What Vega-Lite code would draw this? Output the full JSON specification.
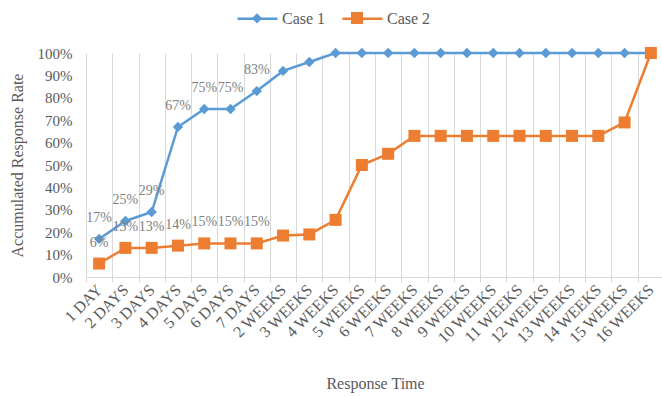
{
  "$schema": "https://vega.github.io/schema/vega-lite/v6.json",
  "autosize": "none",
  "width": 578,
  "height": 224,
  "padding": {"left": 86, "top": 53, "right": 0, "bottom": 120},
  "background": "white",
  "config": {
    "view": {"stroke": null},
    "font": "Liberation Serif"
  },
  "data": {
    "values": [
      {"time": "1 DAY", "case": "Case 1", "rate": 0.17},
      {"time": "2 DAYS", "case": "Case 1", "rate": 0.25},
      {"time": "3 DAYS", "case": "Case 1", "rate": 0.29},
      {"time": "4 DAYS", "case": "Case 1", "rate": 0.67},
      {"time": "5 DAYS", "case": "Case 1", "rate": 0.75},
      {"time": "6 DAYS", "case": "Case 1", "rate": 0.75},
      {"time": "7 DAYS", "case": "Case 1", "rate": 0.83},
      {"time": "2 WEEKS", "case": "Case 1", "rate": 0.92},
      {"time": "3 WEEKS", "case": "Case 1", "rate": 0.96},
      {"time": "4 WEEKS", "case": "Case 1", "rate": 1.0},
      {"time": "5 WEEKS", "case": "Case 1", "rate": 1.0},
      {"time": "6 WEEKS", "case": "Case 1", "rate": 1.0},
      {"time": "7 WEEKS", "case": "Case 1", "rate": 1.0},
      {"time": "8 WEEKS", "case": "Case 1", "rate": 1.0},
      {"time": "9 WEEKS", "case": "Case 1", "rate": 1.0},
      {"time": "10 WEEKS", "case": "Case 1", "rate": 1.0},
      {"time": "11 WEEKS", "case": "Case 1", "rate": 1.0},
      {"time": "12 WEEKS", "case": "Case 1", "rate": 1.0},
      {"time": "13 WEEKS", "case": "Case 1", "rate": 1.0},
      {"time": "14 WEEKS", "case": "Case 1", "rate": 1.0},
      {"time": "15 WEEKS", "case": "Case 1", "rate": 1.0},
      {"time": "16 WEEKS", "case": "Case 1", "rate": 1.0},
      {"time": "1 DAY", "case": "Case 2", "rate": 0.06},
      {"time": "2 DAYS", "case": "Case 2", "rate": 0.13},
      {"time": "3 DAYS", "case": "Case 2", "rate": 0.13},
      {"time": "4 DAYS", "case": "Case 2", "rate": 0.14},
      {"time": "5 DAYS", "case": "Case 2", "rate": 0.15},
      {"time": "6 DAYS", "case": "Case 2", "rate": 0.15},
      {"time": "7 DAYS", "case": "Case 2", "rate": 0.15},
      {"time": "2 WEEKS", "case": "Case 2", "rate": 0.185},
      {"time": "3 WEEKS", "case": "Case 2", "rate": 0.19},
      {"time": "4 WEEKS", "case": "Case 2", "rate": 0.255},
      {"time": "5 WEEKS", "case": "Case 2", "rate": 0.5},
      {"time": "6 WEEKS", "case": "Case 2", "rate": 0.55},
      {"time": "7 WEEKS", "case": "Case 2", "rate": 0.63},
      {"time": "8 WEEKS", "case": "Case 2", "rate": 0.63},
      {"time": "9 WEEKS", "case": "Case 2", "rate": 0.63},
      {"time": "10 WEEKS", "case": "Case 2", "rate": 0.63},
      {"time": "11 WEEKS", "case": "Case 2", "rate": 0.63},
      {"time": "12 WEEKS", "case": "Case 2", "rate": 0.63},
      {"time": "13 WEEKS", "case": "Case 2", "rate": 0.63},
      {"time": "14 WEEKS", "case": "Case 2", "rate": 0.63},
      {"time": "15 WEEKS", "case": "Case 2", "rate": 0.69},
      {"time": "16 WEEKS", "case": "Case 2", "rate": 1.0}
    ]
  },
  "encoding": {
    "x": {
      "field": "time",
      "type": "nominal",
      "sort": ["1 DAY", "2 DAYS", "3 DAYS", "4 DAYS", "5 DAYS", "6 DAYS", "7 DAYS", "2 WEEKS", "3 WEEKS", "4 WEEKS", "5 WEEKS", "6 WEEKS", "7 WEEKS", "8 WEEKS", "9 WEEKS", "10 WEEKS", "11 WEEKS", "12 WEEKS", "13 WEEKS", "14 WEEKS", "15 WEEKS", "16 WEEKS"],
      "scale": {"type": "band", "paddingInner": 0, "paddingOuter": 0},
      "axis": {
        "title": "Response Time",
        "titleFont": "Liberation Serif",
        "titleFontSize": 16,
        "titleFontWeight": "normal",
        "titleColor": "#595959",
        "titlePadding": 30,
        "labelFont": "Liberation Serif",
        "labelFontSize": 16,
        "labelColor": "#595959",
        "labelAngle": -45,
        "labelAlign": "right",
        "labelBaseline": "middle",
        "labelPadding": 5,
        "tickBand": "extent",
        "grid": true,
        "gridColor": "#d9d9d9",
        "gridWidth": 1,
        "domainColor": "#d9d9d9",
        "tickColor": "#d9d9d9",
        "tickSize": 5
      }
    },
    "y": {
      "field": "rate",
      "type": "quantitative",
      "scale": {"domain": [0, 1]},
      "axis": {
        "title": "Accumulated  Response Rate",
        "titleFont": "Liberation Serif",
        "titleFontSize": 16,
        "titleFontWeight": "normal",
        "titleColor": "#595959",
        "titlePadding": 12,
        "format": ".0%",
        "values": [0, 0.1, 0.2, 0.3, 0.4, 0.5, 0.6, 0.7, 0.8, 0.9, 1.0],
        "labelFont": "Liberation Serif",
        "labelFontSize": 15,
        "labelColor": "#595959",
        "labelPadding": 14,
        "grid": false,
        "domain": false,
        "ticks": false
      }
    }
  },
  "layer": [
    {
      "mark": {"type": "line", "strokeWidth": 2.5},
      "encoding": {
        "color": {
          "field": "case",
          "type": "nominal",
          "scale": {"domain": ["Case 1", "Case 2"], "range": ["#5B9BD5", "#ED7D31"]},
          "legend": {
            "title": null,
            "orient": "none",
            "direction": "horizontal",
            "legendX": 150,
            "legendY": -56,
            "symbolType": "stroke",
            "symbolSize": 1600,
            "symbolStrokeWidth": 2.5,
            "labelFont": "Liberation Serif",
            "labelFontSize": 16,
            "labelColor": "#595959",
            "labelOffset": 3,
            "columnPadding": 11
          }
        }
      }
    },
    {
      "mark": {"type": "point", "filled": true, "opacity": 1, "size": 1600},
      "encoding": {
        "fill": {
          "field": "case",
          "type": "nominal",
          "scale": {"range": ["#5B9BD5", "#ED7D31"]},
          "legend": {
            "title": null,
            "orient": "none",
            "direction": "horizontal",
            "legendX": 150,
            "legendY": -56,
            "symbolSize": 1600,
            "labelFont": "Liberation Serif",
            "labelFontSize": 16,
            "labelColor": "#595959",
            "labelOpacity": 0,
            "labelOffset": 3,
            "columnPadding": 11
          }
        },
        "shape": {
          "field": "case",
          "type": "nominal",
          "scale": {"range": ["M0,-0.26L0.26,0L0,0.26L-0.26,0Z", "M-0.3,-0.3H0.3V0.3H-0.3Z"]},
          "legend": {
            "title": null,
            "orient": "none",
            "direction": "horizontal",
            "legendX": 150,
            "legendY": -56,
            "symbolSize": 1600,
            "labelFont": "Liberation Serif",
            "labelFontSize": 16,
            "labelColor": "#595959",
            "labelOpacity": 0,
            "labelOffset": 3,
            "columnPadding": 11
          }
        }
      }
    },
    {
      "transform": [{"filter": {"field": "time", "oneOf": ["1 DAY", "2 DAYS", "3 DAYS", "4 DAYS", "5 DAYS", "6 DAYS", "7 DAYS"]}}],
      "mark": {"type": "text", "dy": -21, "font": "Liberation Serif", "fontSize": 14, "color": "#808080"},
      "encoding": {
        "text": {"field": "rate", "type": "quantitative", "format": ".0%"}
      }
    }
  ]
}
